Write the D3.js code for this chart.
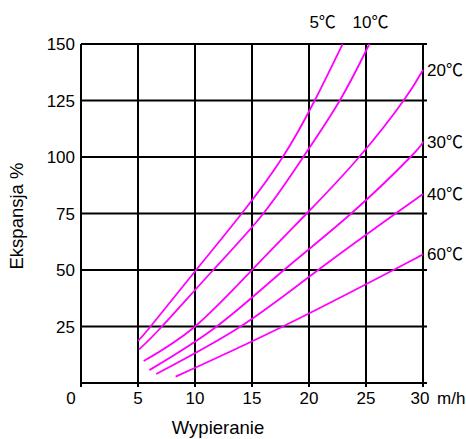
<!DOCTYPE html>
<html><head><meta charset="utf-8">
<script src="https://cdn.jsdelivr.net/npm/d3@7"></script>
<style>
html,body{margin:0;padding:0;background:#fff;}
text{font-family:"Liberation Sans",Arial,sans-serif;fill:#000;}
.deg{font-family:"Noto Sans CJK JP","Noto Sans CJK SC",sans-serif;}
</style></head>
<body><svg id="c" width="466" height="439"></svg>
<script>
const xTicks = [0, 5, 10, 15, 20, 25, 30];
const yTicks = [25, 50, 75, 100, 125, 150];
const seriesTemps = ["5", "10", "20", "30", "40", "60"];
const unitSymbol = "℃";
const x5  = [5.0, 6.1, 10.1, 14.1, 17.7, 20.5, 22.95];
const y5  = [18.7, 25, 50, 75, 100, 125, 150];
const x10 = [5.1, 7.1, 11.6, 16.0, 19.5, 22.7, 25.3];
const y10 = [14.9, 25, 50, 75, 100, 125, 150];
const x20 = [5.5, 10.0, 15.0, 19.8, 24.4, 28.3, 30];
const y20 = [9.7, 25, 50, 75, 100, 125, 138.5];
const x30 = [6.0, 11.9, 17.8, 23.7, 28.9, 30];
const y30 = [5.7, 25, 50, 75, 100, 106.8];
const x40 = [6.6, 14.0, 20.8, 27.6, 30];
const y40 = [4.0, 25, 50, 75, 83.6];
const x60 = [8.3, 17.7, 27.4, 30];
const y60 = [2.8, 25, 50, 57];
const xTitle = "Wypieranie";
const yTitle = "Ekspansja %";
const xUnit = "m/h";

const svg = d3.select("#c");
const x = d3.scaleLinear().domain([0, 30]).range([81, 423]);
const y = d3.scaleLinear().domain([0, 150]).range([383, 44]);
const ext = 4;

svg.append("g").selectAll("line").data(xTicks).join("line")
  .attr("x1", d => x(d)).attr("x2", d => x(d))
  .attr("y1", y(0) + ext).attr("y2", y(150))
  .attr("stroke", "#000").attr("stroke-width", 2);
svg.append("g").selectAll("line").data([0].concat(yTicks)).join("line")
  .attr("x1", x(0)).attr("x2", x(30) + ext)
  .attr("y1", d => y(d)).attr("y2", d => y(d))
  .attr("stroke", "#000").attr("stroke-width", 2);

const series = [[x5,y5],[x10,y10],[x20,y20],[x30,y30],[x40,y40],[x60,y60]];
const line = d3.line().x(d => x(d[0])).y(d => y(d[1])).curve(d3.curveNatural);
svg.append("g").selectAll("path").data(series).join("path")
  .attr("d", s => line(s[0].map((v, i) => [v, s[1][i]])))
  .attr("fill", "none").attr("stroke", "#ff00ff").attr("stroke-width", 1.8);

svg.append("g").selectAll("text").data(xTicks).join("text")
  .attr("x", d => d === 0 ? x(d) - 10 : (d === 30 ? x(d) - 3 : x(d)))
  .attr("y", 404).attr("text-anchor", "middle").attr("font-size", 17)
  .text(d => d);
svg.append("text").attr("x", x(30) + 14).attr("y", 404).attr("font-size", 17).text(xUnit);

svg.append("g").selectAll("text").data(yTicks).join("text")
  .attr("x", x(0) - 6).attr("y", d => y(d) + 6).attr("text-anchor", "end").attr("font-size", 17)
  .text(d => d);

svg.append("text").attr("x", 218).attr("y", 434).attr("text-anchor", "middle").attr("font-size", 18.5).text(xTitle);
svg.append("text").attr("transform", "translate(23,216) rotate(-90)").attr("text-anchor", "middle").attr("font-size", 18.5).text(yTitle);

const lab = svg.append("g").attr("font-size", 17);
function addLabel(xp, yp, i, anchor) {
  const t = lab.append("text").attr("x", xp).attr("y", yp).attr("text-anchor", anchor);
  t.append("tspan").text(seriesTemps[i]);
  t.append("tspan").attr("class", "deg").text(unitSymbol);
}
addLabel(x(x5[x5.length-1]) - 20, 28, 0, "middle");
addLabel(x(x10[x10.length-1]) + 1, 28, 1, "middle");
[[y20,2],[y30,3],[y40,4],[y60,5]].forEach(([ys, i]) => {
  addLabel(x(30) + 4, y(ys[ys.length-1]) + 6, i, "start");
});
</script></body></html>
